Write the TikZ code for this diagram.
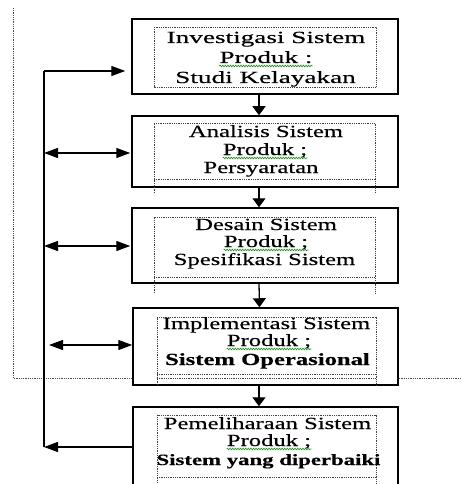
\documentclass[tikz,border=0pt]{standalone}
\usepackage{fontspec}
\setmainfont{Liberation Serif}[FakeStretch=1.45,FakeBold=0.4]
\newfontfamily\widefont{Liberation Serif}[FakeStretch=1.6,FakeBold=0.4]
\usetikzlibrary{arrows.meta,decorations.pathmorphing}
\begin{document}
\begin{tikzpicture}[x=1pt,y=-1pt,
  mainbox/.style={draw, line width=1.5pt, minimum width=266pt, inner sep=0pt},
  txt/.style={inner sep=0pt, anchor=base, font=\fontsize{17}{20}\selectfont},
  wtxt/.style={inner sep=0pt, anchor=base, font=\widefont\fontsize{17}{20}\selectfont},
  btxt/.style={inner sep=0pt, anchor=base, font=\bfseries\fontsize{17}{20}\selectfont},
  sbtxt/.style={inner sep=0pt, anchor=base, font=\bfseries\fontsize{15.7}{20}\selectfont},
  squig/.style={draw=green!60!black, line width=0.6pt, decorate,
     decoration={snake, amplitude=0.8pt, segment length=2.6pt}},
  innerdot/.style={draw=black!75, line width=0.9pt, dash pattern=on 0.9pt off 0.9pt},
  outerdot/.style={draw=black!70, line width=0.9pt, dash pattern=on 0.9pt off 0.9pt},
  vline/.style={draw, line width=1.6pt},
  varr/.style={draw, line width=1.3pt, -{Triangle[width=13pt,length=9pt]}},
  harr/.style={draw, line width=1.3pt, -{Triangle[width=10pt,length=14pt]}},
  hdarr/.style={draw, line width=1.3pt, {Triangle[width=10pt,length=14pt]}-{Triangle[width=10pt,length=14pt]}}
]
\path[use as bounding box, fill=white] (0,0) rectangle (462,484);
\clip (0,0) rectangle (462,484);

% outer dotted boundary
\coordinate (dtl) at (13,8);
\coordinate (dbl) at (13,378);
\coordinate (dbr) at (462,378);

% main boxes
\node[mainbox, minimum height=75pt] (b1) at (265,56.5) {};
\node[mainbox, minimum height=71pt] (b2) at (265,151.5) {};
\node[mainbox, minimum height=75pt] (b3) at (265,245.5) {};
\node[mainbox, minimum width=265pt, minimum height=77pt] (b4) at (265.5,346.5) {};
\node[mainbox, minimum width=265pt, minimum height=93pt] (b5) at (265.5,453.5) {};

% dotted outline
\draw[outerdot] (dtl) -- (dbl) -- (b4.west |- dbl);
\draw[outerdot] (b4.east |- dbr) -- (dbr);

% inner dotted boxes
\draw[innerdot] (154,27) rectangle (376,87);
\draw[innerdot] (154,193) -- (154,123) -- (375,123) -- (375,193);
\draw[innerdot] (154,179) -- (375,179);
\draw[innerdot] (154,293) -- (154,217) -- (375,217) -- (375,293);
\draw[innerdot] (154,277) -- (375,277);
\draw[innerdot] (157,385) -- (157,317) -- (376,317) -- (376,385);
\draw[innerdot] (157,374) -- (376,374);
\draw[innerdot] (157,378) -- (376,378);
\draw[innerdot] (157,490) -- (157,415) -- (376,415) -- (376,490);
\draw[innerdot] (157,477) -- (376,477);

% texts
\node[wtxt] (t11) at (266,43) {Investigasi Sistem};
\node[wtxt] (p1)  at (266,63) {Produk :};
\node[wtxt] (t13) at (265.5,83) {Studi Kelayakan};

\node[txt] (t21) at (266,137) {Analisis Sistem};
\node[txt] (p2)  at (265,155) {Produk ;};
\node[txt] (t23) at (261,173) {Persyaratan};

\node[txt] (t31) at (266,230) {Desain Sistem};
\node[txt] (p3)  at (266,247) {Produk ;};
\node[txt] (t33) at (264.5,265) {Spesifikasi Sistem};

\node[txt] (t41) at (266.5,329) {Implementasi Sistem};
\node[txt] (p4)  at (269,346) {Produk ;};
\node[btxt] (t43) at (267.5,365) {Sistem Operasional};

\node[txt] (t51) at (267.5,429) {Pemeliharaan Sistem};
\node[txt] (p5)  at (269,446) {Produk ;};
\node[sbtxt] (t53) at (268.5,465) {Sistem yang diperbaiki};

% spelling squiggles
\foreach \p in {p1,p2,p3,p4,p5}{
  \draw[squig] ([yshift=-3pt]\p.base west) -- ([yshift=-3pt]\p.base east);
}

% vertical arrows between boxes
\draw[varr] ([xshift=-6pt]b1.south) -- ([xshift=-6pt]b2.north);
\draw[varr] ([xshift=-6pt]b2.south) -- ([xshift=-6pt]b3.north);
\draw[varr] ([xshift=-6pt]b3.south) -- ([xshift=-6pt]b4.north);
\draw[varr] ([xshift=-6.5pt]b4.south) -- ([xshift=-6.5pt]b5.north);

% feedback loop
\coordinate (lt) at (44,71);
\coordinate (lb) at (44,447);
\draw[harr] (b5.west |- lb) -- (lb);
\draw[vline] (lb) -- (lt);
\draw[harr, shorten >=6pt] (lt) -- (b1.west |- lt);

% two-way arrows
\coordinate (a2) at (44,153);
\coordinate (a3) at (44,246);
\coordinate (a4) at (49,345);
\draw[hdarr, shorten >=1pt] (a2) -- (b2.west |- a2);
\draw[hdarr, shorten >=1pt] (a3) -- (b3.west |- a3);
\draw[hdarr] (a4) -- (b4.west |- a4);
\end{tikzpicture}
\end{document}
